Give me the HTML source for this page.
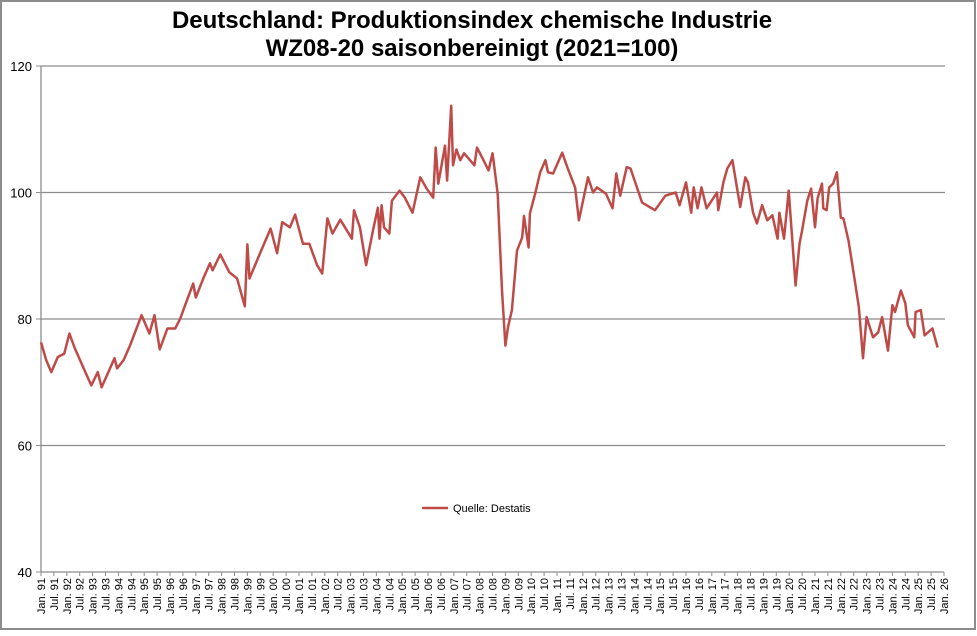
<!DOCTYPE html>
<html><head><meta charset="utf-8"><style>
html,body{margin:0;padding:0;background:#fff;}
body{width:977px;height:631px;overflow:hidden;font-family:"Liberation Sans",Arial,sans-serif;}
</style></head><body>
<svg id="chart" width="977" height="631" viewBox="0 0 977 631" xmlns="http://www.w3.org/2000/svg" font-family="Liberation Sans, Arial, sans-serif">
<rect x="1" y="1" width="974" height="628" fill="#fff" stroke="#8c8c8c" stroke-width="2"/>
<text x="472" y="28" font-size="24" font-weight="bold" text-anchor="middle">Deutschland: Produktionsindex chemische Industrie</text>
<text x="472" y="56" font-size="24" font-weight="bold" text-anchor="middle">WZ08-20 saisonbereinigt (2021=100)</text>
<g id="grid"></g><g id="xaxis"></g><g id="series"></g>
<g>
<line x1="422" y1="508" x2="448" y2="508" stroke="#be4b48" stroke-width="2.5"/>
<text x="453" y="512" font-size="11">Quelle: Destatis</text>
</g>
</svg>
<script>
const dates=[1991.0,1991.2,1991.4,1991.65,1991.9,1992.1,1992.3,1992.6,1992.95,1993.2,1993.35,1993.6,1993.85,1993.95,1994.2,1994.45,1994.7,1994.9,1995.2,1995.4,1995.6,1995.9,1996.2,1996.4,1996.65,1996.9,1997.0,1997.3,1997.55,1997.65,1997.95,1998.3,1998.6,1998.9,1999.0,1999.08,1999.5,1999.9,2000.15,2000.35,2000.65,2000.85,2001.15,2001.4,2001.7,2001.9,2002.1,2002.3,2002.6,2003.05,2003.13,2003.36,2003.6,2003.87,2004.06,2004.12,2004.2,2004.3,2004.5,2004.6,2004.9,2005.1,2005.4,2005.7,2005.95,2006.2,2006.3,2006.4,2006.66,2006.74,2006.9,2006.97,2007.1,2007.25,2007.4,2007.8,2007.9,2008.1,2008.35,2008.5,2008.55,2008.7,2008.87,2009.0,2009.1,2009.25,2009.45,2009.65,2009.72,2009.9,2009.95,2010.15,2010.35,2010.55,2010.65,2010.85,2011.2,2011.4,2011.7,2011.85,2012.2,2012.4,2012.55,2012.9,2013.15,2013.3,2013.45,2013.7,2013.85,2014.3,2014.8,2015.2,2015.6,2015.75,2016.0,2016.2,2016.3,2016.45,2016.6,2016.8,2017.2,2017.25,2017.45,2017.6,2017.8,2018.1,2018.3,2018.4,2018.6,2018.75,2018.95,2019.15,2019.35,2019.55,2019.62,2019.8,2019.98,2020.25,2020.4,2020.5,2020.7,2020.85,2021.0,2021.1,2021.27,2021.32,2021.45,2021.55,2021.7,2021.85,2022.0,2022.1,2022.3,2022.5,2022.7,2022.86,2023.0,2023.25,2023.45,2023.6,2023.83,2024.0,2024.1,2024.33,2024.5,2024.6,2024.85,2024.9,2025.1,2025.25,2025.55,2025.75];
const values=[76.3,73.5,71.6,74,74.5,77.7,75.5,72.7,69.5,71.6,69.2,71.5,73.8,72.2,73.5,75.8,78.5,80.6,77.7,80.6,75.2,78.5,78.5,80.1,82.9,85.6,83.4,86.5,88.8,87.7,90.2,87.4,86.4,82,91.8,86.4,90.5,94.3,90.4,95.3,94.5,96.5,91.9,91.9,88.5,87.2,95.9,93.5,95.7,92.7,97.2,94.5,88.5,94,97.6,92.7,98,94.5,93.5,98.7,100.3,99.2,96.8,102.4,100.6,99.2,107.1,101.4,107.4,101.9,113.7,104.3,106.8,105.1,106.2,104.3,107.1,105.5,103.5,106.2,104.7,99.8,84.5,75.8,78.7,81.4,90.8,92.9,96.3,91.3,96.7,99.8,103.2,105.1,103.2,103,106.3,104,100.8,95.6,102.4,100,100.8,99.8,97.5,103,99.5,104,103.8,98.4,97.2,99.5,100,98,101.6,96.8,100.8,97.5,100.8,97.5,100,97.2,101.6,103.8,105.1,97.7,102.4,101.6,96.8,95.1,98,95.6,96.4,92.7,96.8,92.7,100.3,85.3,91.9,94,98.7,100.6,94.5,99.1,101.4,97.5,97.2,100.8,101.4,103.2,96,95.9,92.4,87.2,81.8,73.8,80.3,77.1,77.9,80.3,75,82.2,81.1,84.5,82.5,79,77.1,81.1,81.4,77.4,78.5,75.5];
const yTicks=[40,60,80,100,120];
const NS='http://www.w3.org/2000/svg';
const X0=41,X1=944,Y0=572,Y1=66;
function xs(t){return X0+(t-1991)/35*(X1-X0);}
function ys(v){return Y0-(v-40)/80*(Y0-Y1);}
const grid=document.getElementById('grid');
yTicks.forEach(v=>{
  if(v>40){const l=document.createElementNS(NS,'line');
  
  
  l.setAttribute('x1',X0);l.setAttribute('x2',X1+1);l.setAttribute('y1',ys(v));l.setAttribute('y2',ys(v));
  l.setAttribute('stroke','#8c8c8c');l.setAttribute('stroke-width','1.3');grid.appendChild(l);}
  const tk=document.createElementNS(NS,'line');
  
  
  tk.setAttribute('x1',X0-5);tk.setAttribute('x2',X0);tk.setAttribute('y1',ys(v));tk.setAttribute('y2',ys(v));tk.setAttribute('stroke','#8c8c8c');grid.appendChild(tk);
  const t=document.createElementNS(NS,'text');
  
  
  t.setAttribute('x',X0-9);t.setAttribute('y',ys(v)+5);t.setAttribute('font-size','13');t.setAttribute('text-anchor','end');
  t.textContent=v;grid.appendChild(t);
});
const ax=document.createElementNS(NS,'line');


ax.setAttribute('x1',X0);ax.setAttribute('x2',X0);ax.setAttribute('y1',Y1);ax.setAttribute('y2',Y0);ax.setAttribute('stroke','#8c8c8c');ax.setAttribute('stroke-width','1.3');grid.appendChild(ax);
const xa=document.getElementById('xaxis');
const bx=document.createElementNS(NS,'line');


bx.setAttribute('x1',X0);bx.setAttribute('x2',X1);bx.setAttribute('y1',Y0);bx.setAttribute('y2',Y0);bx.setAttribute('stroke','#8c8c8c');bx.setAttribute('stroke-width','1.3');xa.appendChild(bx);
for(let i=0;i<=70;i++){
  const t=1991+i/2,x=xs(t);
  const yr=String(Math.floor(t)%100).padStart(2,'0');
  const lab=(i%2===0?'Jan. ':'Jul. ')+yr;
  const tk=document.createElementNS(NS,'line');
  
  
  tk.setAttribute('x1',x);tk.setAttribute('x2',x);tk.setAttribute('y1',Y0);tk.setAttribute('y2',Y0+4);tk.setAttribute('stroke','#8c8c8c');xa.appendChild(tk);
  const tx=document.createElementNS(NS,'text');
  
  
  tx.setAttribute('font-size','11');tx.setAttribute('text-anchor','end');
  tx.setAttribute('transform','translate('+(x+4)+','+(Y0+6)+') rotate(-90)');
  tx.textContent=lab;xa.appendChild(tx);
}
const p=document.createElementNS(NS,'polyline');


p.setAttribute('points',dates.map((d,i)=>xs(d).toFixed(1)+','+ys(values[i]).toFixed(1)).join(' '));
p.setAttribute('fill','none');p.setAttribute('stroke','#be4b48');p.setAttribute('stroke-width','2.5');p.setAttribute('stroke-linejoin','round');
document.getElementById('series').appendChild(p);
</script>
</body></html>
